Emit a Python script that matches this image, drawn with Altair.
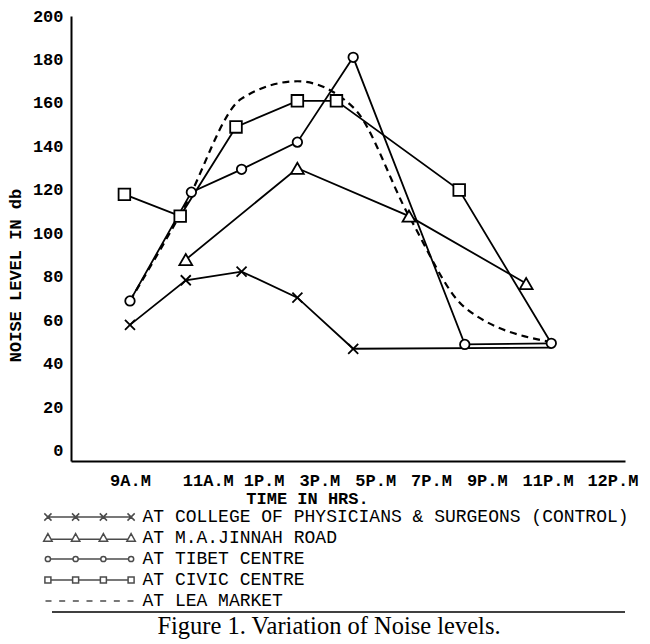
import json
import altair as alt
import numpy as np
import pandas as pd

# ---------------- data ----------------
time_labels = ["9A.M", "11A.M", "1P.M", "3P.M", "5P.M", "7P.M", "9P.M", "11P.M", "12P.M"]
series_names = [
    "AT COLLEGE OF PHYSICIANS & SURGEONS (CONTROL)",
    "AT M.A.JINNAH ROAD",
    "AT TIBET CENTRE",
    "AT CIVIC CENTRE",
    "AT LEA MARKET",
]
y_ticks = [0, 20, 40, 60, 80, 100, 120, 140, 160, 180, 200]

# x = time slot index (0 = 9A.M ... 8 = 12P.M), as drawn on the figure
college_x = [0, 1, 2, 3, 4, 7.55]
college_y = [58, 78.5, 82.5, 70.5, 47, 47.5]
college_m = [1, 1, 1, 1, 1, 0]

jinnah_x = [1, 3, 5, 7.1]
jinnah_y = [88, 130, 108, 77]
jinnah_m = [1, 1, 1, 1]

tibet_x = [0, 1.1, 2, 3, 4, 6, 7.55]
tibet_y = [69, 119, 129.5, 142, 181, 49, 49.5]
tibet_m = [1, 1, 1, 1, 1, 1, 1]

civic_x = [-0.1, 0.9, 1.9, 3, 3.7, 5.9, 7.55]
civic_y = [118, 108, 149, 161, 161, 120, 49.5]
civic_m = [1, 1, 1, 1, 1, 1, 0]

lea_x = [0, 0.95, 2, 3, 4, 5, 6, 7.55]
lea_y = [69, 111, 162, 170, 158, 108, 66, 50]

caption = "Figure 1.  Variation of Noise levels."

# ---------------- styling helpers ----------------
MONO = "Liberation Mono"
SERIF = "Liberation Serif"

label_expr = json.dumps(time_labels) + "[datum.value]"

X = alt.X(
    "t:Q",
    scale=alt.Scale(domain=[-1.057, 8.871], nice=False, zero=False),
    axis=alt.Axis(
        values=list(range(len(time_labels))),
        labelExpr=label_expr,
        ticks=False, grid=False,
        domainColor="black", domainWidth=2,
        labelFont=MONO, labelFontSize=17, labelFontWeight="bold", labelColor="black",
        labelPadding=11, labelFlush=False, labelOverlap=False,
        labelOffset={"expr": "datum.value == 0 ? 0 : datum.value == 7 ? 27 : datum.value == 8 ? 36 : 22"},
        title="TIME IN HRS.",
        titleFont=MONO, titleFontSize=17, titleFontWeight="bold", titleColor="black",
        titleX=236, titleY=37, titleAlign="center", titleBaseline="middle",
    ),
)
Y = alt.Y(
    "v:Q",
    scale=alt.Scale(domain=[-4.6, 200], nice=False, zero=False),
    axis=alt.Axis(
        values=y_ticks,
        ticks=False, grid=False,
        domainColor="black", domainWidth=2,
        labelFont=MONO, labelFontSize=17, labelFontWeight="bold", labelColor="black",
        labelPadding=8, labelFlush=False, labelOverlap=False,
        title="NOISE LEVEL IN db",
        titleFont=MONO, titleFontSize=17, titleFontWeight="bold", titleColor="black",
        titleX=-56, titleY=259, titleAngle=270, titleAlign="center", titleBaseline="middle",
    ),
)


def frame(xs, ys, ms=None):
    d = pd.DataFrame({"t": xs, "v": ys, "i": list(range(len(xs)))})
    d["m"] = ms if ms is not None else [1] * len(xs)
    return d


layers = []
series_specs = [
    (college_x, college_y, college_m, "M-1,-1L1,1M-1,1L1,-1", 100),
    (jinnah_x, jinnah_y, jinnah_m, "triangle-up", 165),
    (tibet_x, tibet_y, tibet_m, "circle", 90),
    (civic_x, civic_y, civic_m, "square", 135),
]
for xs, ys, ms, shp, sz in series_specs:
    d = frame(xs, ys, ms)
    layers.append(
        alt.Chart(d).mark_line(color="black", strokeWidth=1.8).encode(x=X, y=Y, order="i:Q")
    )

lea_df = frame(lea_x, lea_y)
layers.append(
    alt.Chart(lea_df)
    .mark_line(color="black", strokeWidth=2.2, strokeDash=[7, 5], interpolate="monotone")
    .encode(x=X, y=Y, order="i:Q")
)

for xs, ys, ms, shp, sz in series_specs:
    d = frame(xs, ys, ms)
    d = d[d["m"] == 1]
    layers.append(
        alt.Chart(d)
        .mark_point(shape=shp, size=sz, filled=True, fill="white", stroke="black", strokeWidth=1.8, opacity=1)
        .encode(x=X, y=Y)
    )


# ---------------- legend (native Vega-Lite legend with path symbols) ----------------
def r2(v):
    return f"{v:.2f}"


def legend_path(kind):
    cx = [-10.4, -3.47, 3.47, 10.4]
    p = []
    if kind == "x":
        p.append(f"M{r2(cx[0])},0L{r2(cx[-1])},0")
        h = 0.9
        for c in cx:
            p.append(f"M{r2(c-h)},{r2(-h)}L{r2(c+h)},{r2(h)}M{r2(c-h)},{r2(h)}L{r2(c+h)},{r2(-h)}")
    elif kind == "tri":
        h = 1.05
        for i, c in enumerate(cx):
            p.append(f"M{r2(c)},-1.1L{r2(c+h)},0.8L{r2(c-h)},0.8Z")
            if i < len(cx) - 1:
                p.append(f"M{r2(c+h*0.55)},0.3L{r2(cx[i+1]-h*0.55)},0.3")
    elif kind == "circle":
        r = 0.65
        for i, c in enumerate(cx):
            p.append(f"M{r2(c-r)},0A{r},{r} 0 1,0 {r2(c+r)},0A{r},{r} 0 1,0 {r2(c-r)},0Z")
            if i < len(cx) - 1:
                p.append(f"M{r2(c+r)},0L{r2(cx[i+1]-r)},0")
    elif kind == "square":
        h = 0.75
        for i, c in enumerate(cx):
            p.append(f"M{r2(c-h)},{r2(-h)}L{r2(c+h)},{r2(-h)}L{r2(c+h)},{r2(h)}L{r2(c-h)},{r2(h)}Z")
            if i < len(cx) - 1:
                p.append(f"M{r2(c+h)},0L{r2(cx[i+1]-h)},0")
    else:  # dashed
        n, L, start, end = 7, 1.5, -11.0, 11.0
        gap = (end - start - n * L) / (n - 1)
        for k in range(n):
            a = start + k * (L + gap)
            p.append(f"M{r2(a)},0L{r2(a+L)},0")
    return "".join(p)


legend_paths = [legend_path(k) for k in ["x", "tri", "circle", "square", "dash"]]

leg_df = pd.DataFrame({"series": series_names, "t": [np.nan] * 5, "v": [np.nan] * 5})
layers.append(
    alt.Chart(leg_df)
    .mark_point(filled=False, color="black", size=64, strokeWidth=1.5)
    .encode(
        x=X,
        y=Y,
        shape=alt.Shape(
            "series:N",
            scale=alt.Scale(domain=series_names, range=legend_paths),
            legend=alt.Legend(
                title=None, orient="none", legendX=9.5, legendY=492,
                padding=0, rowPadding=3, labelOffset=44, labelLimit=0,
                labelFont=MONO, labelFontSize=18, labelColor="black",
                symbolStrokeWidth=1.5, symbolStrokeColor="black", symbolSize=64,
            ),
        ),
    )
)

# rule above the caption (decoration)
layers.append(
    alt.Chart(pd.DataFrame({"a": [0]}))
    .mark_rule(color="black", strokeWidth=1.6)
    .encode(x=alt.value(-19), x2=alt.value(554), y=alt.value(596))
)

chart = (
    alt.layer(*layers)
    .properties(
        width=554,
        height=445,
        autosize=alt.AutoSizeParams(type="none"),
        padding={"left": 63, "top": 8, "right": 17, "bottom": 180},
        title=alt.TitleParams(
            caption, orient="bottom", anchor="middle", frame="group",
            font=SERIF, fontSize=24.5, fontWeight="normal", color="black",
            offset=2, dx=-19,
        ),
    )
    .configure(background="white")
    .configure_view(stroke=None)
)

chart.save("out.html", embed_options={"renderer": "svg", "actions": False})
